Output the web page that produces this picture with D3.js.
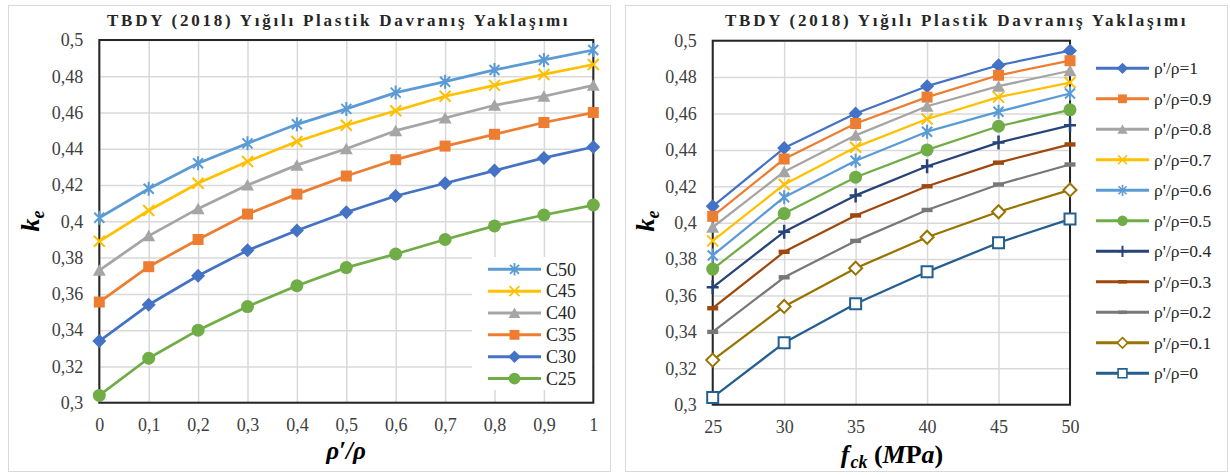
<!DOCTYPE html>
<html><head><meta charset="utf-8">
<script src="https://cdn.jsdelivr.net/npm/d3@7"></script>
<style>
body{margin:0;background:#fff}
svg{display:block}
svg text{font-family:"Liberation Serif", serif !important}
</style>
</head><body>
<svg id="c" width="1230" height="475" font-family="Liberation Serif"></svg>
<script>
// ---------- DATA ----------
const rhoRatios = [0, 0.1, 0.2, 0.3, 0.4, 0.5, 0.6, 0.7, 0.8, 0.9, 1];
const rhoTickLabels = ["0", "0,1", "0,2", "0,3", "0,4", "0,5", "0,6", "0,7", "0,8", "0,9", "1"];
const fckValues = [25, 30, 35, 40, 45, 50];
const fckTickLabels = ["25", "30", "35", "40", "45", "50"];
const keTicks = [0.3, 0.32, 0.34, 0.36, 0.38, 0.4, 0.42, 0.44, 0.46, 0.48, 0.5];
const keTickLabels = ["0,3", "0,32", "0,34", "0,36", "0,38", "0,4", "0,42", "0,44", "0,46", "0,48", "0,5"];

const C50 = [0.402, 0.418, 0.432, 0.443, 0.4535, 0.462, 0.471, 0.477, 0.4835, 0.489, 0.4945];
const C45 = [0.389, 0.406, 0.421, 0.433, 0.444, 0.453, 0.461, 0.469, 0.475, 0.481, 0.4865];
const C40 = [0.373, 0.392, 0.407, 0.420, 0.431, 0.440, 0.450, 0.457, 0.464, 0.469, 0.475];
const C35 = [0.3555, 0.375, 0.390, 0.404, 0.415, 0.425, 0.434, 0.4415, 0.448, 0.4545, 0.460];
const C30 = [0.334, 0.354, 0.370, 0.384, 0.395, 0.405, 0.414, 0.421, 0.428, 0.435, 0.441];
const C25 = [0.304, 0.3245, 0.340, 0.353, 0.3645, 0.3745, 0.382, 0.390, 0.3975, 0.4035, 0.409];

const concreteNames = ["C50", "C45", "C40", "C35", "C30", "C25"];
const concreteSeries = [C50, C45, C40, C35, C30, C25];
// order of fck values matches C25..C50
const seriesByFck = [C25, C30, C35, C40, C45, C50];

const rhoLegendValues = [1, 0.9, 0.8, 0.7, 0.6, 0.5, 0.4, 0.3, 0.2, 0.1, 0];
const rhoLegendLabels = ["ρ'/ρ=1", "ρ'/ρ=0.9", "ρ'/ρ=0.8", "ρ'/ρ=0.7", "ρ'/ρ=0.6", "ρ'/ρ=0.5",
                         "ρ'/ρ=0.4", "ρ'/ρ=0.3", "ρ'/ρ=0.2", "ρ'/ρ=0.1", "ρ'/ρ=0"];
const titleText = "TBDY (2018) Yığılı Plastik Davranış Yaklaşımı";

// ---------- STYLES ----------
const SERIF = '"Liberation Serif", serif';
const concreteStyle = {
  C50: {color: "#5B9BD5", marker: "asterisk"},
  C45: {color: "#FFC000", marker: "x"},
  C40: {color: "#A5A5A5", marker: "triangle"},
  C35: {color: "#ED7D31", marker: "square"},
  C30: {color: "#4472C4", marker: "diamond"},
  C25: {color: "#70AD47", marker: "circle"}
};
const rhoStyle = [
  {color: "#4472C4", marker: "diamond"},
  {color: "#ED7D31", marker: "square"},
  {color: "#A5A5A5", marker: "triangle"},
  {color: "#FFC000", marker: "x"},
  {color: "#5B9BD5", marker: "asterisk"},
  {color: "#70AD47", marker: "circle"},
  {color: "#264478", marker: "plus"},
  {color: "#9E480E", marker: "dash"},
  {color: "#787878", marker: "dash"},
  {color: "#997300", marker: "openDiamond"},
  {color: "#255E91", marker: "openSquare"}
];

const svg = d3.select("#c");

function drawMarker(g, type, x, y, color, s) {
  const t = `translate(${x},${y}) scale(${s})`;
  switch (type) {
    case "diamond":
      g.append("path").attr("d", "M0,-7L7,0L0,7L-7,0Z").attr("transform", t).attr("fill", color); break;
    case "square":
      g.append("path").attr("d", "M-5.5,-5.5h11v11h-11Z").attr("transform", t).attr("fill", color); break;
    case "triangle":
      g.append("path").attr("d", "M0,-6L6.5,5.5L-6.5,5.5Z").attr("transform", t).attr("fill", color); break;
    case "circle":
      g.append("circle").attr("r", 6.5).attr("transform", t).attr("fill", color); break;
    case "x":
      g.append("path").attr("d", "M-5.5,-5.5L5.5,5.5M-5.5,5.5L5.5,-5.5").attr("transform", t)
        .attr("stroke", color).attr("stroke-width", 2).attr("fill", "none"); break;
    case "asterisk":
      g.append("path").attr("d", "M-5,-5L5,5M-5,5L5,-5M0,-7L0,7").attr("transform", t)
        .attr("stroke", color).attr("stroke-width", 2).attr("fill", "none"); break;
    case "plus":
      g.append("path").attr("d", "M-6,0H6M0,-7V7").attr("transform", t)
        .attr("stroke", color).attr("stroke-width", 2.5).attr("fill", "none"); break;
    case "dash":
      g.append("path").attr("d", "M-5.5,-2.2h11v4.4h-11Z").attr("transform", t).attr("fill", color); break;
    case "openDiamond":
      g.append("path").attr("d", "M0,-6.5L6.5,0L0,6.5L-6.5,0Z").attr("transform", t)
        .attr("fill", "#fff").attr("stroke", color).attr("stroke-width", 2); break;
    case "openSquare":
      g.append("path").attr("d", "M-5.5,-5.5h11v11h-11Z").attr("transform", t)
        .attr("fill", "#fff").attr("stroke", color).attr("stroke-width", 2); break;
  }
}

function styleTicks(a) {
  a.select(".domain").remove();
  a.attr("font-family", SERIF);
  a.selectAll("text").attr("font-size", 18).attr("fill", "#404040").style("font-family", SERIF);
}

function buildPanel(cfg) {
  const {px, x0, x1, y0, y1, xDomain, xTicks, xLabels, titleX} = cfg;
  svg.append("rect").attr("x", px + 0.5).attr("y", 5.5).attr("width", 602).attr("height", 466)
    .attr("fill", "#fff").attr("stroke", "#d9d9d9").attr("stroke-width", 1);
  svg.append("text").attr("x", titleX).attr("y", 26).text(titleText).style("font-family", SERIF)
    .attr("font-size", 17).attr("font-weight", "bold").attr("letter-spacing", 2.75).attr("fill", "#262626");

  const x = d3.scaleLinear().domain(xDomain).range([x0, x1]);
  const y = d3.scaleLinear().domain([0.3, 0.5]).range([y1, y0]);
  const g = svg.append("g");
  g.append("g").attr("transform", `translate(0,${y1})`)
    .call(d3.axisBottom(x).tickValues(xTicks).tickSize(-(y1 - y0)).tickFormat(""))
    .call(a => a.select(".domain").remove())
    .call(a => a.selectAll("line").attr("stroke", "#d9d9d9").attr("stroke-width", 1.5));
  g.append("g").attr("transform", `translate(${x0},0)`)
    .call(d3.axisLeft(y).tickValues(keTicks).tickSize(-(x1 - x0)).tickFormat(""))
    .call(a => a.select(".domain").remove())
    .call(a => a.selectAll("line").attr("stroke", "#d9d9d9").attr("stroke-width", 1.5));
  g.append("g").attr("transform", `translate(${x0},0)`)
    .call(d3.axisLeft(y).tickValues(keTicks).tickSize(0).tickPadding(16).tickFormat((d, i) => keTickLabels[i]))
    .call(styleTicks);
  g.append("g").attr("transform", `translate(0,${y1})`)
    .call(d3.axisBottom(x).tickValues(xTicks).tickSize(0).tickPadding(16).tickFormat((d, i) => xLabels[i]))
    .call(styleTicks);
  g.append("rect").attr("x", x0).attr("y", y0).attr("width", x1 - x0).attr("height", y1 - y0)
    .attr("fill", "none").attr("stroke", "#262626").attr("stroke-width", 2);
  return {x, y, g};
}

// ---------- LEFT PANEL ----------
const L = buildPanel({px: 8, x0: 99.3, x1: 593.3, y0: 40, y1: 402.7, xDomain: [0, 1],
  xTicks: rhoRatios, xLabels: rhoTickLabels, titleX: 107});
const lineL = d3.line().x((d, i) => L.x(rhoRatios[i])).y(d => L.y(d));
[5, 4, 3, 2, 1, 0].forEach(k => {
  const name = concreteNames[k], st = concreteStyle[name], vals = concreteSeries[k];
  const sg = L.g.append("g");
  sg.append("path").attr("d", lineL(vals)).attr("fill", "none").attr("stroke", st.color)
    .attr("stroke-width", 2.75).attr("stroke-linejoin", "round");
  vals.forEach((v, i) => drawMarker(sg, st.marker, L.x(rhoRatios[i]), L.y(v), st.color, 1));
});
const legL = L.g.append("g");
legL.append("rect").attr("x", 472).attr("y", 257).attr("width", 120).attr("height", 133).attr("fill", "#fff");
concreteNames.forEach((name, i) => {
  const st = concreteStyle[name];
  const yy = 269.3 + i * 21.85;
  legL.append("line").attr("x1", 488).attr("x2", 541).attr("y1", yy).attr("y2", yy)
    .attr("stroke", st.color).attr("stroke-width", 3);
  drawMarker(legL, st.marker, 514.5, yy, st.color, 0.9);
  legL.append("text").attr("x", 546).attr("y", yy).attr("dy", "0.35em").text(name)
    .style("font-family", SERIF).attr("font-size", 18).attr("fill", "#262626");
});
svg.append("text").attr("x", 346).attr("y", 459).attr("text-anchor", "middle").style("font-family", SERIF)
  .attr("font-size", 25).attr("font-weight", "bold").attr("font-style", "italic").attr("fill", "#000")
  .text("ρ′/ρ");
const kl = svg.append("text").attr("transform", "translate(39,221) rotate(-90)").attr("text-anchor", "middle")
  .style("font-family", SERIF)
  .attr("font-size", 26).attr("font-weight", "bold").attr("font-style", "italic").attr("fill", "#000");
kl.append("tspan").text("k");
kl.append("tspan").attr("font-size", 18).attr("dy", 5).text("e");

// ---------- RIGHT PANEL ----------
const R = buildPanel({px: 625, x0: 712.7, x1: 1070, y0: 40.7, y1: 404.7, xDomain: [25, 50],
  xTicks: fckValues, xLabels: fckTickLabels, titleX: 725});
const lineR = d3.line().x(d => R.x(d[0])).y(d => R.y(d[1]));
rhoLegendValues.forEach((r, j) => {
  const idx = rhoRatios.indexOf(r);
  const pts = fckValues.map((f, i) => [f, seriesByFck[i][idx]]);
  const st = rhoStyle[j];
  const sg = R.g.append("g");
  sg.append("path").attr("d", lineR(pts)).attr("fill", "none").attr("stroke", st.color)
    .attr("stroke-width", 2.25).attr("stroke-linejoin", "round");
  pts.forEach(p => drawMarker(sg, st.marker, R.x(p[0]), R.y(p[1]), st.color, 1));
});
const legR = svg.append("g");
rhoLegendLabels.forEach((lab, j) => {
  const st = rhoStyle[j];
  const yy = 68.3 + j * 30.5;
  legR.append("line").attr("x1", 1096).attr("x2", 1149).attr("y1", yy).attr("y2", yy)
    .attr("stroke", st.color).attr("stroke-width", 3);
  drawMarker(legR, st.marker, 1122.5, yy, st.color, 0.8);
  legR.append("text").attr("x", 1154).attr("y", yy).attr("dy", "0.35em").text(lab)
    .style("font-family", SERIF).attr("font-size", 17.5).attr("fill", "#262626");
});
const fx = svg.append("text").attr("x", 892).attr("y", 463).attr("text-anchor", "middle")
  .style("font-family", SERIF)
  .attr("font-size", 26).attr("font-weight", "bold").attr("fill", "#000");
fx.append("tspan").attr("font-style", "italic").text("f");
fx.append("tspan").attr("font-style", "italic").attr("font-size", 18).attr("dy", 5).attr("dx", 1).text("ck");
fx.append("tspan").attr("dy", -5).text(" (");
fx.append("tspan").attr("font-style", "italic").text("M");
fx.append("tspan").text("P");
fx.append("tspan").attr("font-style", "italic").text("a");
fx.append("tspan").text(")");
const kr = svg.append("text").attr("transform", "translate(654,221) rotate(-90)").attr("text-anchor", "middle")
  .style("font-family", SERIF)
  .attr("font-size", 26).attr("font-weight", "bold").attr("font-style", "italic").attr("fill", "#000");
kr.append("tspan").text("k");
kr.append("tspan").attr("font-size", 18).attr("dy", 5).text("e");
</script>
</body></html>
